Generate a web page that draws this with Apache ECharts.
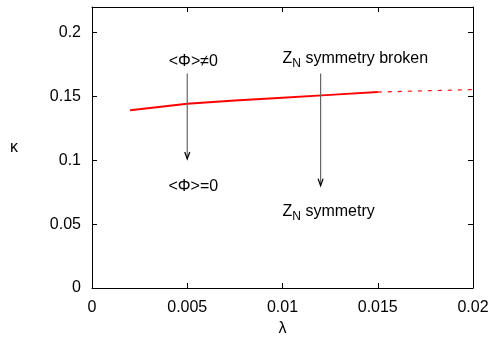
<!DOCTYPE html>
<html>
<head>
<meta charset="utf-8">
<script src="https://cdn.jsdelivr.net/npm/echarts@6/dist/echarts.min.js"></script>
<style>html,body{margin:0;padding:0;background:#fff}#c{width:494px;height:337px}</style>
</head>
<body>
<div id="c"></div>
<script>
const xTicks = [0, 0.005, 0.01, 0.015, 0.02];
const yTicks = [0, 0.05, 0.1, 0.15, 0.2];
const solidLine = [[0.002, 0.1392], [0.005, 0.1443], [0.0075, 0.1468], [0.01, 0.1490], [0.0125, 0.1512], [0.015, 0.1534]];
const dashedLine = [[0.015, 0.1534], [0.0175, 0.1544], [0.02, 0.1553]];
const arrows = [
  { x: 0.005, from: 0.168, to: 0.101 },
  { x: 0.012, from: 0.168, to: 0.080 }
];
const labels = [
  { x: 0.00532, y: 0.1775, text: '<Φ>≠0' },
  { x: 0.00532, y: 0.0795, text: '<Φ>=0' },
  { x: 0.0100, y: 0.1795, text: '{z|Z}{s|N}{z| symmetry broken}', align: 'left' },
  { x: 0.0100, y: 0.0595, text: '{z|Z}{s|N}{z| symmetry}', align: 'left' }
];

const FONT = 'Liberation Sans';
const chart = echarts.init(document.getElementById('c'));

function arrowItem(params, api) {
  const a = arrows[params.dataIndex];
  const p1 = api.coord([a.x, a.from]);
  const p2 = api.coord([a.x, a.to]);
  return {
    type: 'group',
    children: [
      { type: 'line', shape: { x1: p1[0], y1: p1[1], x2: p2[0], y2: p2[1] }, style: { stroke: '#666', lineWidth: 1.2 } },
      { type: 'polyline', shape: { points: [[p2[0] - 2.5, p2[1] - 7], [p2[0], p2[1]], [p2[0] + 2.5, p2[1] - 7]] }, style: { stroke: '#000', lineWidth: 1.2, fill: null } }
    ]
  };
}
function labelItem(params, api) {
  const l = labels[params.dataIndex];
  const p = api.coord([l.x, l.y]);
  return {
    type: 'text',
    x: p[0], y: p[1],
    style: {
      text: l.text,
      align: l.align || 'center',
      verticalAlign: 'middle',
      fontFamily: FONT, fontSize: 16, fill: '#000',
      rich: {
        z: { fontFamily: FONT, fontSize: 16, fill: '#000' },
        s: { fontFamily: FONT, fontSize: 12, fill: '#000', padding: [9, 0, 0, 0] }
      }
    }
  };
}

const axisCommon = {
  type: 'value',
  axisLine: { show: true, onZero: false, lineStyle: { color: '#000', width: 1 } },
  axisTick: { show: true, inside: true, length: 5, lineStyle: { color: '#000' } },
  splitLine: { show: false },
  axisLabel: { fontFamily: FONT, fontSize: 16, color: '#000' }
};

chart.setOption({
  animation: false,
  backgroundColor: '#fff',
  grid: { left: 92, right: 21, top: 7, bottom: 49, show: false, containLabel: false, outerBoundsMode: 'none' },
  xAxis: [
    Object.assign({}, axisCommon, {
      min: 0, max: 0.02, interval: 0.005, position: 'bottom',
      name: 'λ', nameLocation: 'middle', nameGap: 33,
      nameTextStyle: { fontFamily: FONT, fontSize: 16, color: '#000' },
      axisLabel: Object.assign({}, axisCommon.axisLabel, { margin: 12, formatter: v => xTicks.includes(+v.toFixed(4)) ? String(+v.toFixed(4)) : '' })
    }),
    Object.assign({}, axisCommon, {
      min: 0, max: 0.02, interval: 0.005, position: 'top',
      axisLabel: { show: false }
    })
  ],
  yAxis: [
    Object.assign({}, axisCommon, {
      min: 0, max: 0.22, interval: 0.05, position: 'left',
      name: 'κ', nameLocation: 'middle', nameGap: 74, nameRotate: 0,
      nameTextStyle: { fontFamily: FONT, fontSize: 16, color: '#000' },
      axisLabel: Object.assign({}, axisCommon.axisLabel, { margin: 11, showMaxLabel: false, formatter: v => yTicks.includes(+v.toFixed(4)) ? String(+v.toFixed(4)) : '' })
    }),
    Object.assign({}, axisCommon, {
      min: 0, max: 0.22, interval: 0.05, position: 'right',
      axisLabel: { show: false }
    })
  ],
  series: [
    { type: 'line', data: solidLine, showSymbol: false, symbol: 'none', lineStyle: { color: '#f00', width: 2 }, z: 3 },
    { type: 'line', data: dashedLine, showSymbol: false, symbol: 'none', lineStyle: { color: '#f00', width: 1.2, type: [4, 6] }, z: 3 },
    { type: 'custom', data: arrows.map(a => [a.x, a.from]), renderItem: arrowItem, z: 4 },
    { type: 'custom', data: labels.map(l => [l.x, l.y]), renderItem: labelItem, z: 5 }
  ]
});
</script>
</body>
</html>
